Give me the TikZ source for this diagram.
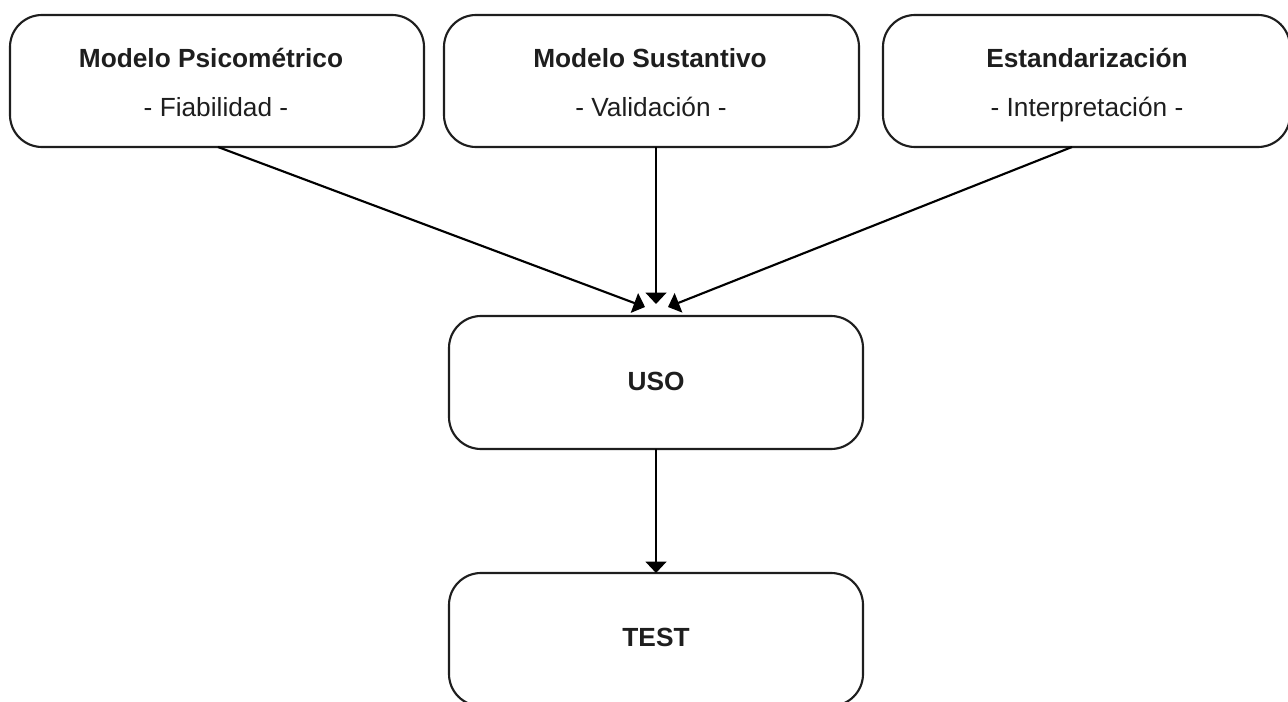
\documentclass[tikz,border=0pt]{standalone}
\usepackage{fontspec}
\setmainfont{Liberation Sans}
\usetikzlibrary{arrows.meta}
\definecolor{ink}{HTML}{1E1E1E}
\begin{document}
\begin{tikzpicture}[x=0.75pt,y=-0.75pt,
  box/.style={draw=ink, line width=1.6pt, rounded corners=24pt, minimum height=99pt, inner sep=0pt, outer sep=0pt},
  ttl/.style={anchor=base, font=\fontsize{19.7}{23}\selectfont\bfseries, text=ink, inner sep=0pt},
  sub/.style={anchor=base, font=\fontsize{19.7}{23}\selectfont, text=ink, inner sep=0pt},
  arr/.style={draw=black, line width=1.6pt, -{Triangle[length=8.5pt,width=15.5pt]}}]
\useasboundingbox (0,0) rectangle (1288,702);
% boxes
\node[box, minimum width=310.5pt] (b1) at (217,81) {};
\node[box, minimum width=311.25pt] (b2) at (651.5,81) {};
\node[box, minimum width=305.25pt] (b3) at (1086.5,81) {};
\node[box, minimum width=310.5pt, minimum height=99.75pt] (uso) at (656,382.5) {};
\node[box, minimum width=310.5pt, minimum height=99.75pt] (test) at (656,639.5) {};
% texts
\node[ttl] (t1a) at (211,68) {Modelo Psicométrico};
\node[sub] (t1b) at (216,117) {- Fiabilidad -};
\node[ttl] (t2a) at (650,68) {Modelo Sustantivo};
\node[sub] (t2b) at (651,117) {- Validación -};
\node[ttl] (t3a) at (1087,68) {Estandarización};
\node[sub] (t3b) at (1087,117) {- Interpretación -};
\node[ttl] (t4) at (656,390) {USO};
\node[ttl] (t5) at (656,646) {TEST};
% arrow ends
\coordinate (e1) at (645,307);
\coordinate (e2) at (656,304);
\coordinate (e3) at (668,307);
\coordinate (s1) at (218,147);
\coordinate (s3) at (1072,147);
\draw[arr] (s1) -- (e1);
\draw[arr] (b2.south -| uso.north) -- (e2);
\draw[arr] (s3) -- (e3);
\draw[arr] (uso.south) -- (test.north);
\end{tikzpicture}
\end{document}
